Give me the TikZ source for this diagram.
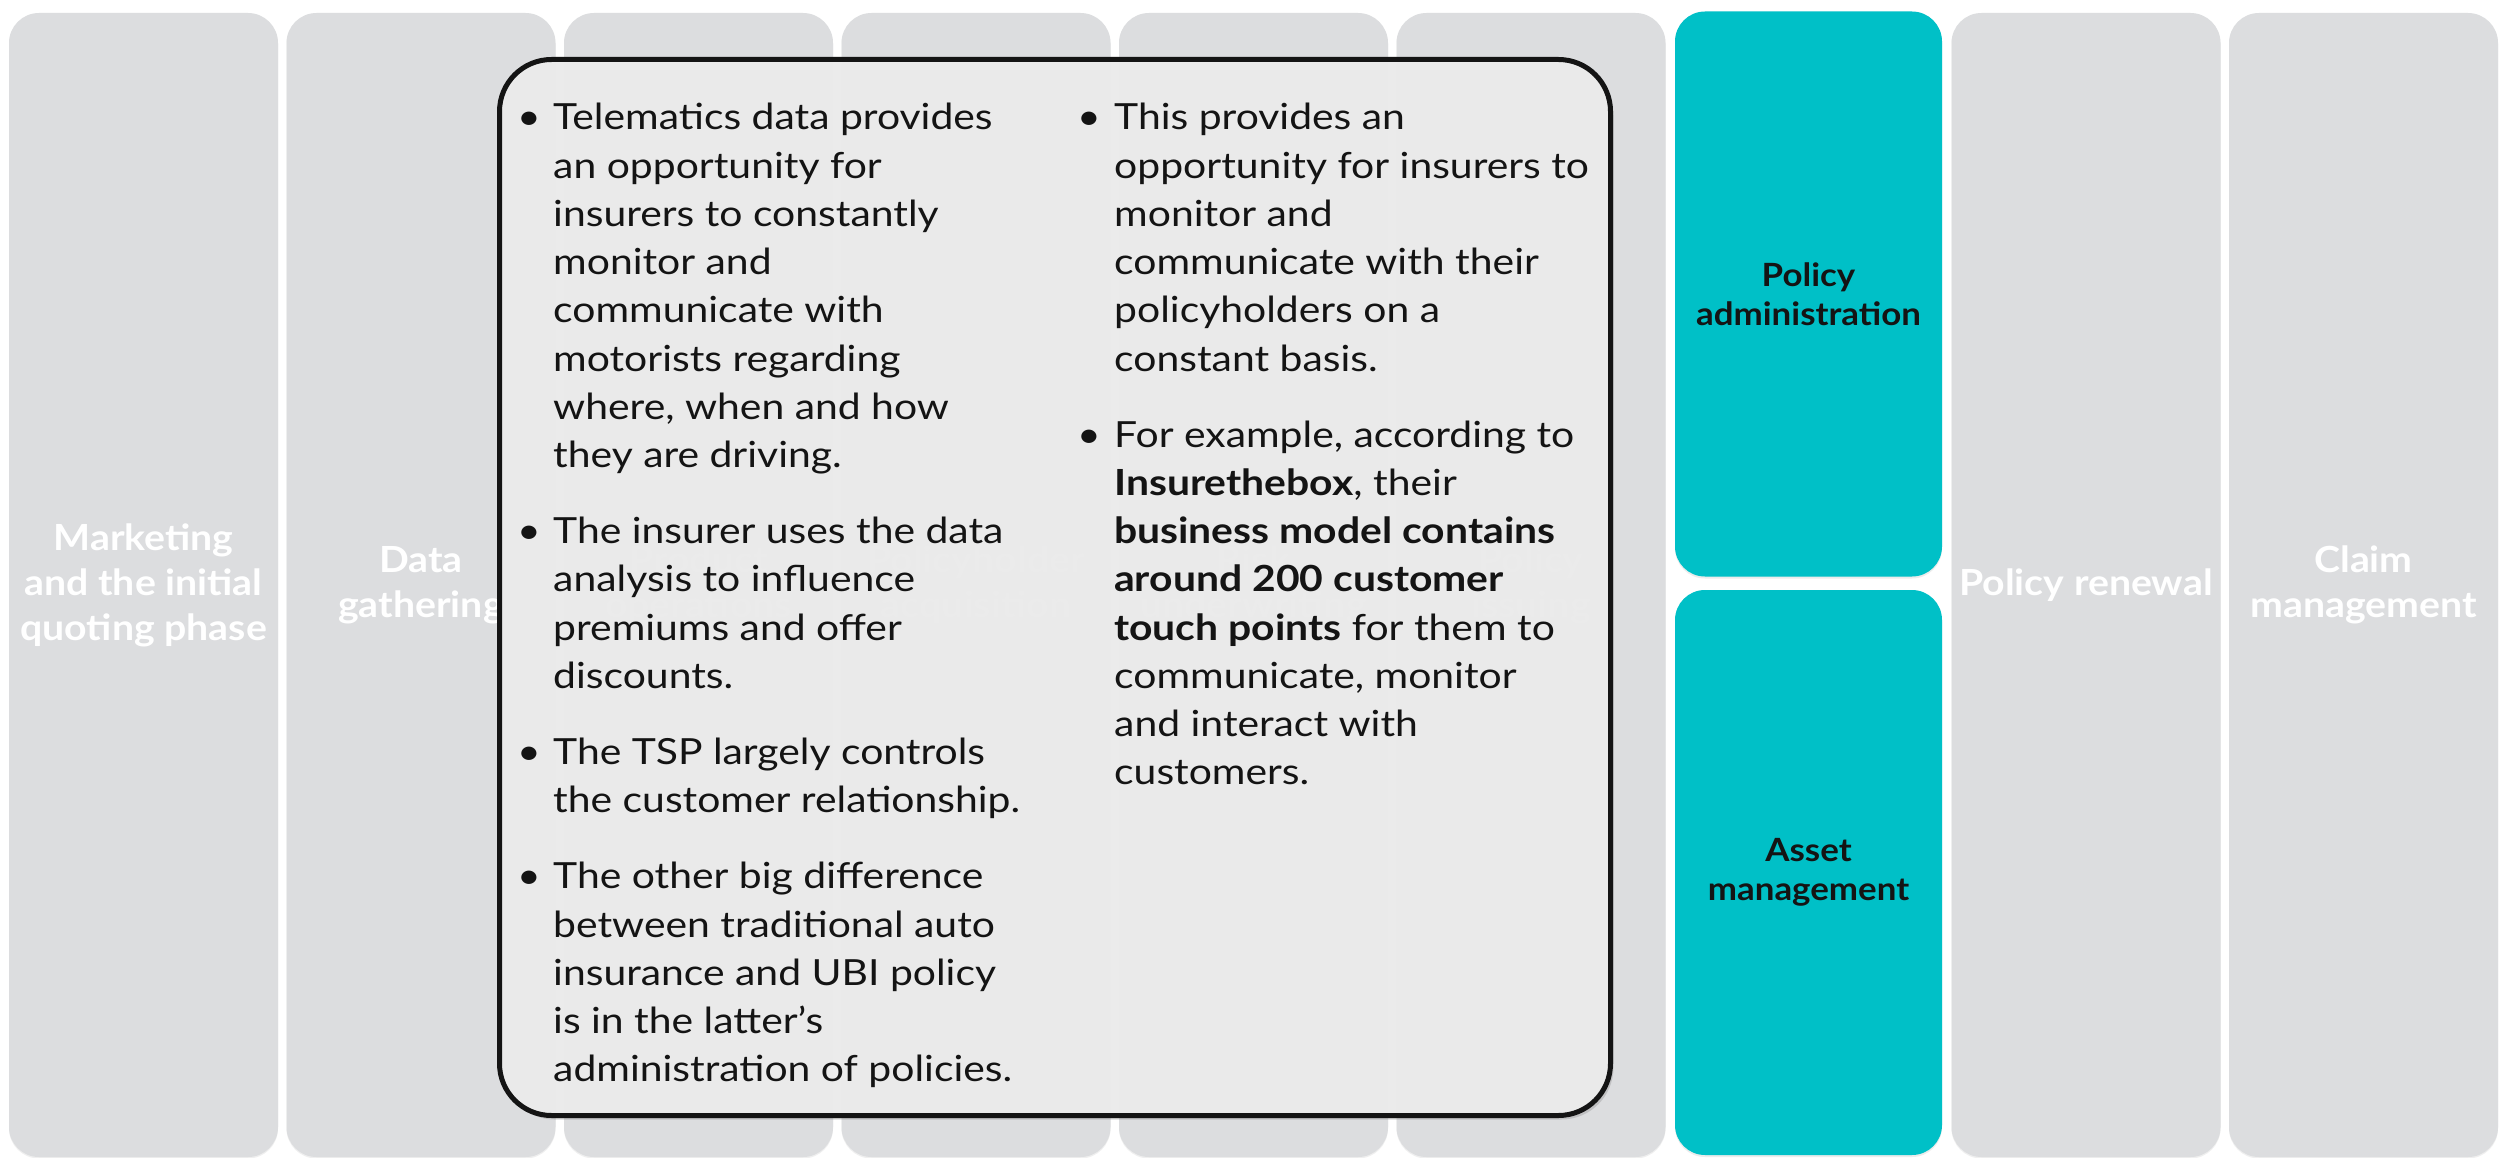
\documentclass[tikz,border=0pt]{standalone}
\usepackage{fontspec}
\setmainfont{Lato}[FakeStretch=1.135]
\newfontfamily\labelfont{Lato}[FakeStretch=1.09]
\usetikzlibrary{shadows}
\definecolor{colgray}{RGB}{220,221,223}
\definecolor{tealc}{RGB}{0,192,199}
\definecolor{popfill}{RGB}{236,236,236}
\definecolor{inkc}{RGB}{20,20,20}
\begin{document}
\begin{tikzpicture}[x=1pt,y=-1pt,
  colbox/.style={fill=colgray, rounded corners=30pt, minimum width=269pt, minimum height=1144pt,
    inner sep=0pt, align=center, text=white, font=\labelfont\bfseries\fontsize{36}{45}\selectfont,
    drop shadow={opacity=0.12, shadow xshift=0pt, shadow yshift=-1.5pt}},
  tealbox/.style={fill=tealc, rounded corners=30pt, minimum width=267pt, minimum height=565pt,
    inner sep=0pt, align=center, text=inkc, font=\labelfont\bfseries\fontsize{32}{38.5}\selectfont,
    drop shadow={opacity=0.15, shadow xshift=0pt, shadow yshift=-2pt}},
  popup/.style={fill=popfill, fill opacity=0.96, draw=inkc, line width=5pt, rounded corners=52pt,
    minimum width=1111pt, minimum height=1056pt, inner sep=0pt,
    drop shadow={opacity=0.3, shadow xshift=3pt, shadow yshift=-4pt}},
  txt/.style={anchor=base west, inner sep=0pt, text=inkc, font=\fontsize{36}{43}\selectfont},
  bul/.style={anchor=base, inner sep=0pt, text=inkc, font=\fontsize{36}{43}\selectfont}
]
\useasboundingbox (0,0) rectangle (2509,1158);
\fill[white] (0,0) rectangle (2509,1158);

% columns
\node[colbox] (c1) at (143.5,585) {Marketing\\and the initial\\quoting phase};
\node[colbox] (c2) at (421,585) {Data\\gathering};
\node[colbox] (c3) at (698.5,585) {Product\\operations};
\node[colbox] (c4) at (976,585) {Policyholder\\acquisition};
\node[colbox] (c5) at (1253.5,585) {Risk\\underwriting};
\node[colbox] (c6) at (1531,585) {Policy\\issuing};
\node[tealbox] (c7a) at (1808.5,294) {Policy\\administration};
\node[tealbox] (c7b) at (1808.5,872.5) {Asset\\management};
\node[colbox] (c8) at (2086,585) {Policy renewal};
\node[colbox] (c9) at (2363.5,585) {Claim\\management};

% popup
\node[popup] (pop) at (1055,587.5) {};

\begin{scope}[shift={(0,4)}]
% left column bullets
\node[bul] (b1) at (529,126) {•};
\node[bul] (b2) at (529,539.6) {•};
\node[bul] (b3) at (529,760.4) {•};
\node[bul] (b4) at (529,884.8) {•};
\node[txt] (l1) at (553,126) {Telematics data provides};
\node[txt] (l2) at (553,174.2) {an opportunity for};
\node[txt] (l3) at (553,222.4) {insurers to constantly};
\node[txt] (l4) at (553,270.6) {monitor and};
\node[txt] (l5) at (553,318.8) {communicate with};
\node[txt] (l6) at (553,367) {motorists regarding};
\node[txt] (l7) at (553,415.2) {where, when and how};
\node[txt] (l8) at (553,463.4) {they are driving.};
\node[txt] (l9) at (553,539.6) {The insurer uses the data};
\node[txt] (l10) at (553,587.8) {analysis to influence};
\node[txt] (l11) at (553,636) {premiums and offer};
\node[txt] (l12) at (553,684.2) {discounts.};
\node[txt] (l13) at (553,760.4) {The TSP largely controls};
\node[txt] (l14) at (553,808.6) {the customer relationship.};
\node[txt] (l15) at (553,884.8) {The other big difference};
\node[txt] (l16) at (553,933) {between traditional auto};
\node[txt] (l17) at (553,981.2) {insurance and UBI policy};
\node[txt] (l18) at (553,1029.4) {is in the latter’s};
\node[txt] (l19) at (553,1077.6) {administration of policies.};

% right column
\node[bul] (b5) at (1089,126) {•};
\node[bul] (b6) at (1089,443.2) {•};
\node[txt] (r1) at (1114,126) {This provides an};
\node[txt] (r2) at (1114,174.2) {opportunity for insurers to};
\node[txt] (r3) at (1114,222.4) {monitor and};
\node[txt] (r4) at (1114,270.6) {communicate with their};
\node[txt] (r5) at (1114,318.8) {policyholders on a};
\node[txt] (r6) at (1114,367) {constant basis.};
\node[txt] (r7) at (1114,443.2) {For example, according to};
\node[txt] (r8) at (1114,491.4) {\textbf{Insurethebox}, their};
\node[txt] (r9) at (1114,539.6) {\textbf{business model contains}};
\node[txt] (r10) at (1114,587.8) {\textbf{around 200 customer}};
\node[txt] (r11) at (1114,636) {\textbf{touch points} for them to};
\node[txt] (r12) at (1114,684.2) {communicate, monitor};
\node[txt] (r13) at (1114,732.4) {and interact with};
\node[txt] (r14) at (1114,780.6) {customers.};
\end{scope}
\end{tikzpicture}
\end{document}
